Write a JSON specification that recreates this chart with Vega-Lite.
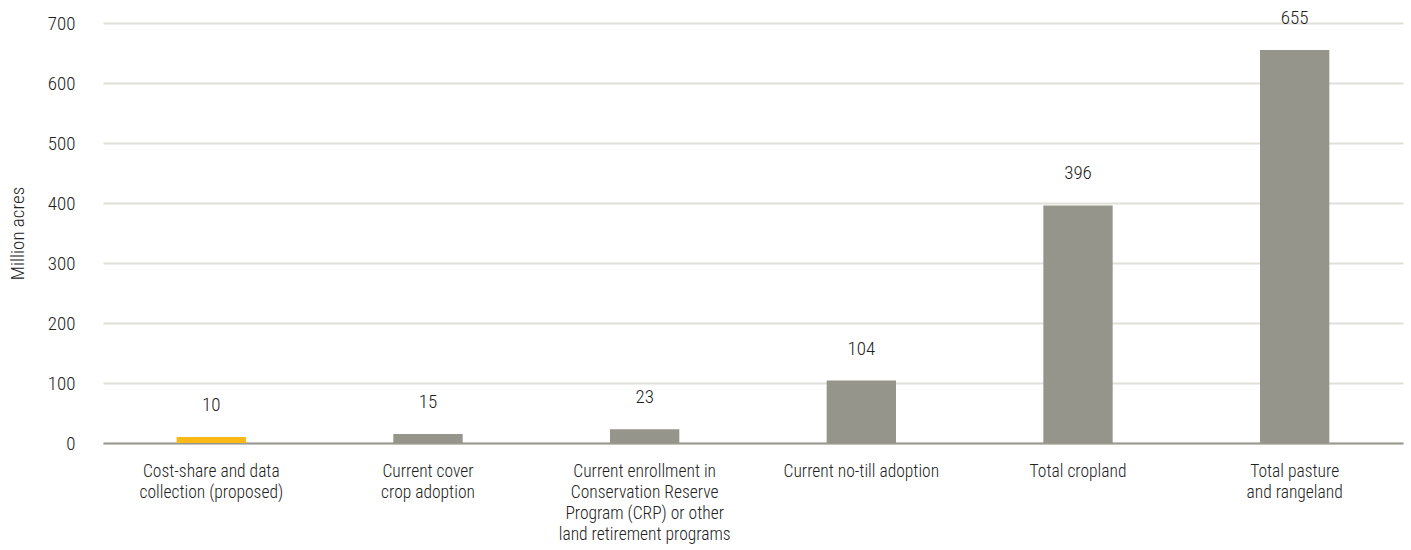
{
  "$schema": "https://vega.github.io/schema/vega-lite/v6.json",
  "autosize": "none",
  "width": 1300,
  "height": 420,
  "padding": {"left": 103, "top": 23, "right": 8, "bottom": 107},
  "background": "white",
  "config": {
    "view": {"stroke": null},
    "font": "Roboto Condensed, Roboto, sans-serif",
    "axis": {"labelFont": "Roboto Condensed, Roboto, sans-serif", "titleFont": "Roboto Condensed, Roboto, sans-serif"}
  },
  "data": {
    "values": [
      {"category": "Cost-share and data|collection (proposed)", "value": 10, "group": "proposed"},
      {"category": "Current cover|crop adoption", "value": 15, "group": "current"},
      {"category": "Current enrollment in|Conservation Reserve|Program (CRP) or other|land retirement programs", "value": 23, "group": "current"},
      {"category": "Current no-till adoption", "value": 104, "group": "current"},
      {"category": "Total cropland", "value": 396, "group": "current"},
      {"category": "Total pasture|and rangeland", "value": 655, "group": "current"}
    ]
  },
  "encoding": {
    "x": {
      "field": "category",
      "type": "nominal",
      "sort": null,
      "scale": {"paddingInner": 0.68, "paddingOuter": 0.34},
      "axis": {
        "title": null,
        "labelAngle": 0,
        "labelExpr": "split(datum.label, '|')",
        "labelFontSize": 17.5,
        "labelFontWeight": 300,
        "labelColor": "#222222",
        "labelPadding": 19,
        "labelLineHeight": 21,
        "labelLimit": 300,
        "ticks": false,
        "domainColor": "#999990",
        "domainWidth": 2,
        "grid": false
      }
    },
    "y": {
      "field": "value",
      "type": "quantitative",
      "scale": {"domain": [0, 700], "nice": false},
      "axis": {
        "title": "Million acres",
        "titleFontSize": 19,
        "titleFontWeight": 300,
        "titleColor": "#222222",
        "titlePadding": 20,
        "values": [0, 100, 200, 300, 400, 500, 600, 700],
        "labelFontSize": 19,
        "labelFontWeight": 300,
        "labelColor": "#222222",
        "labelPadding": 28,
        "ticks": false,
        "domain": false,
        "gridColor": "#e0e0d8",
        "gridWidth": 2
      }
    }
  },
  "layer": [
    {
      "mark": {"type": "bar"},
      "encoding": {
        "color": {
          "field": "group",
          "type": "nominal",
          "scale": {"domain": ["proposed", "current"], "range": ["#fbb916", "#95958b"]},
          "legend": null
        }
      }
    },
    {
      "mark": {"type": "text", "baseline": "bottom", "dy": -22, "fontSize": 19, "fontWeight": 300, "color": "#222222"},
      "encoding": {"text": {"field": "value", "type": "quantitative"}}
    }
  ]
}
